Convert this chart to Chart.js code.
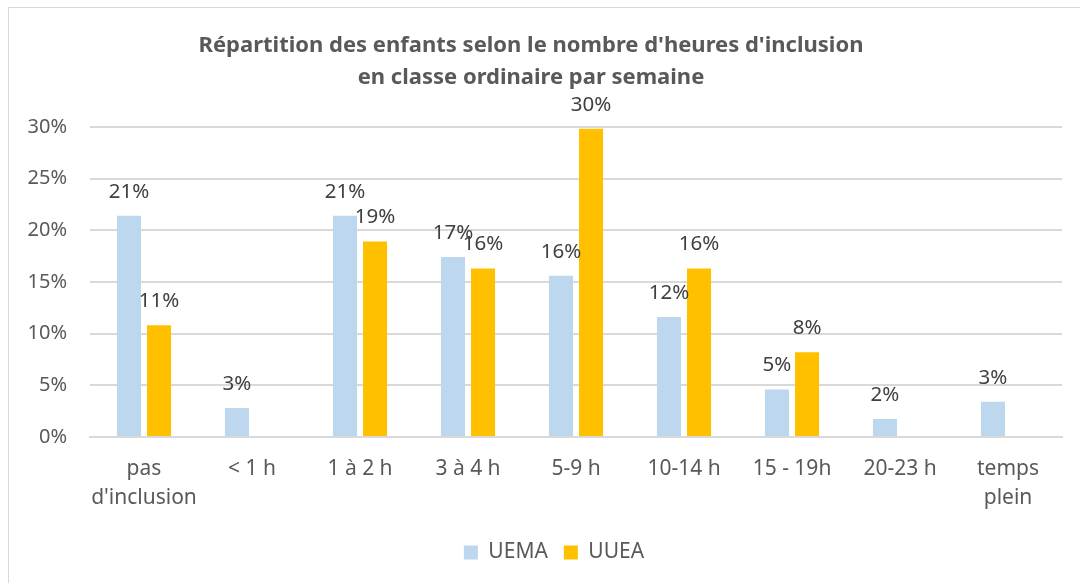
<!DOCTYPE html>
<html lang="fr">
<head>
    <meta charset="UTF-8">
    <title>Répartition des enfants</title>
    <script src="https://cdn.jsdelivr.net/npm/chart.js"></script>
    <style>
        html, body {
            margin: 0;
            padding: 0;
            background: #ffffff;
        }
        #frame {
            position: absolute;
            left: 8px;
            top: 7px;
            width: 1090px;
            height: 600px;
            border: 1px solid #d9d9d9;
        }
        #wrap {
            position: absolute;
            left: 0;
            top: 0;
            width: 1080px;
            height: 583px;
        }
    </style>
</head>
<body>
    <div id="frame"></div>
    <div id="wrap"><canvas id="chart"></canvas></div>

    <script>
        // Data
        const categories = [['pas', "d'inclusion"], '< 1 h', '1 à 2 h', '3 à 4 h', '5-9 h', '10-14 h', '15 - 19h', '20-23 h', ['temps', 'plein']];
        const uema = [21.4, 2.8, 21.4, 17.4, 15.6, 11.6, 4.6, 1.75, 3.4];
        const uuea = [10.8, 0, 18.9, 16.3, 29.8, 16.3, 8.2, 0, 0];
        const seriesNames = ['UEMA', 'UUEA'];
        const yTicks = [0, 5, 10, 15, 20, 25, 30];

        const FONT = "'Noto Sans', sans-serif";

        // value labels above the bars (skip zeros)
        const barLabels = {
            id: 'barLabels',
            afterDatasetsDraw(chart) {
                const ctx = chart.ctx;
                ctx.save();
                ctx.font = '20.5px ' + FONT;
                ctx.fillStyle = '#404040';
                ctx.textAlign = 'center';
                ctx.textBaseline = 'middle';
                chart.data.datasets.forEach((ds, i) => {
                    chart.getDatasetMeta(i).data.forEach((bar, j) => {
                        const v = ds.data[j];
                        if (!v) return;
                        ctx.fillText(Math.round(v) + '%', bar.x, bar.y - 24);
                    });
                });
                ctx.restore();
            }
        };

        // legend sits a little right of centre in the original
        const legendShift = {
            id: 'legendShift',
            afterLayout(chart) {
                chart.legend.left += 23;
                chart.legend.right += 23;
            }
        };

        new Chart(document.getElementById('chart'), {
            type: 'bar',
            data: {
                labels: categories,
                datasets: [
                    { label: seriesNames[0], data: uema, backgroundColor: '#BDD7EE' },
                    { label: seriesNames[1], data: uuea, backgroundColor: '#FFC000' }
                ]
            },
            options: {
                responsive: true,
                maintainAspectRatio: false,
                animation: false,
                categoryPercentage: 0.557,
                barPercentage: 0.8,
                layout: { padding: { left: 0, right: 18, top: 0, bottom: 10 } },
                plugins: {
                    tooltip: { enabled: false },
                    title: {
                        display: true,
                        text: ["Répartition des enfants selon le nombre d'heures d'inclusion", 'en classe ordinaire par semaine'],
                        color: '#595959',
                        font: { family: FONT, size: 22, weight: 'bold', lineHeight: 1.45 },
                        padding: { top: 30, bottom: 33 }
                    },
                    legend: {
                        position: 'bottom',
                        labels: {
                            color: '#595959',
                            font: { family: FONT, size: 21 },
                            boxWidth: 14,
                            boxHeight: 14,
                            padding: 16
                        }
                    }
                },
                scales: {
                    x: {
                        grid: { display: false, drawTicks: false },
                        border: { color: '#d9d9d9', width: 2 },
                        ticks: {
                            color: '#595959',
                            font: { family: FONT, size: 21, lineHeight: 1.38 },
                            padding: 18,
                            maxRotation: 0,
                            autoSkip: false
                        },
                        afterFit(scale) { scale.height = 89; }
                    },
                    y: {
                        min: 0,
                        max: 30,
                        afterBuildTicks(scale) { scale.ticks = yTicks.map(v => ({ value: v })); },
                        grid: { color: '#d9d9d9', lineWidth: 2, drawTicks: false },
                        border: { display: false },
                        ticks: {
                            color: '#595959',
                            font: { family: FONT, size: 20 },
                            padding: 23,
                            callback: v => v + '%'
                        },
                        afterFit(scale) { scale.width = 90; }
                    }
                }
            },
            plugins: [barLabels, legendShift]
        });
    </script>
</body>
</html>
